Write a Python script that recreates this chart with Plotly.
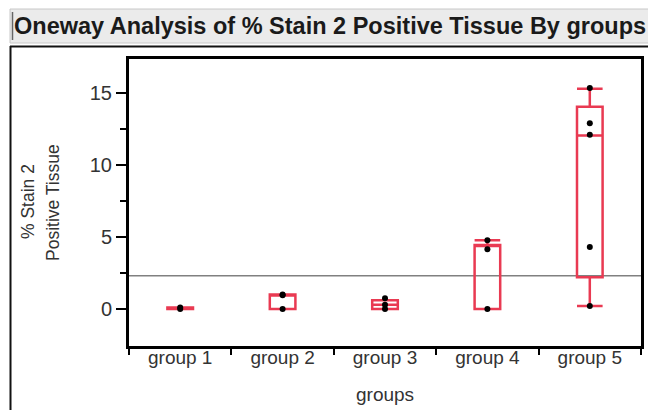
import plotly.graph_objects as go

# ---- data ----
groups = ["group 1", "group 2", "group 3", "group 4", "group 5"]
q1 = [0.0, 0.0, 0.0, 0.0, 2.2]
median = [0.05, 1.0, 0.3, 4.4, 12.05]
q3 = [0.1, 1.0, 0.6, 4.44, 14.05]
lower_fence = [0.0, 0.0, 0.0, 0.0, 0.2]
upper_fence = [0.1, 1.0, 0.6, 4.77, 15.3]

point_groups = ["group 1", "group 1",
                "group 2", "group 2", "group 2",
                "group 3", "group 3", "group 3",
                "group 4", "group 4", "group 4",
                "group 5", "group 5", "group 5", "group 5", "group 5"]
point_values = [0.0, 0.1,
                0.0, 0.95, 1.0,
                0.0, 0.3, 0.75,
                0.0, 4.15, 4.78,
                0.2, 4.3, 12.1, 12.9, 15.35]
grand_mean = 2.3

y_ticks = [0, 5, 10, 15]

title_text = "Oneway Analysis of % Stain 2 Positive Tissue By groups"
y_title_lines = ["% Stain 2", "Positive Tissue"]
x_title = "groups"

# ---- layout geometry (page pixels) ----
W, H = 648, 410
L, R, T, B = 129, 641, 59, 346
pw, ph = R - L, B - T


def px(x):
    return (x - L) / pw


def py(y):
    return (B - y) / ph


RED = "#E93A52"
FONT = "Arial, Liberation Sans, sans-serif"

fig = go.Figure()

fig.add_trace(go.Box(
    x=groups, q1=q1, median=median, q3=q3,
    lowerfence=lower_fence, upperfence=upper_fence,
    width=0.25, whiskerwidth=1,
    line=dict(color=RED, width=2.5),
    fillcolor="rgba(255,255,255,0)",
    boxpoints=False, showlegend=False, hoverinfo="skip",
))

fig.add_trace(go.Scatter(
    x=point_groups, y=point_values, mode="markers",
    marker=dict(color="black", size=6),
    showlegend=False, hoverinfo="skip",
))

shapes = [
    # grand mean line
    dict(type="line", xref="paper", yref="y", x0=0, x1=1,
         y0=grand_mean, y1=grand_mean,
         line=dict(color="#808080", width=1.5), layer="below"),
    # title bar
    dict(type="rect", xref="paper", yref="paper",
         x0=px(10), x1=px(652), y0=py(43), y1=py(9),
         fillcolor="#EBEBEB", line=dict(color="#C8C8C8", width=1)),
    dict(type="line", xref="paper", yref="paper",
         x0=px(12.5), x1=px(12.5), y0=py(40), y1=py(12),
         line=dict(color="#666", width=1.5)),
    # outer frame
    dict(type="line", xref="paper", yref="paper",
         x0=px(10), x1=px(652), y0=py(46.5), y1=py(46.5),
         line=dict(color="#111", width=2)),
    dict(type="line", xref="paper", yref="paper",
         x0=px(10.5), x1=px(10.5), y0=py(46), y1=py(414),
         line=dict(color="#111", width=2)),
]

annotations = [
    dict(text="<b>" + title_text + "</b>", xref="paper", yref="paper",
         x=px(12), y=py(26), xanchor="left", yanchor="middle",
         showarrow=False, font=dict(family=FONT, size=23.5, color="#1a1a1a")),
    dict(text=y_title_lines[0], xref="paper", yref="paper",
         x=px(28), y=py(202), xanchor="center", yanchor="middle",
         textangle=-90, showarrow=False,
         font=dict(family=FONT, size=17.5, color="#333")),
    dict(text=y_title_lines[1], xref="paper", yref="paper",
         x=px(53), y=py(203), xanchor="center", yanchor="middle",
         textangle=-90, showarrow=False,
         font=dict(family=FONT, size=17.5, color="#333")),
    dict(text=x_title, xref="paper", yref="paper",
         x=0.5, y=py(394), xanchor="center", yanchor="middle",
         showarrow=False, font=dict(family=FONT, size=19, color="#333")),
]

fig.update_layout(
    width=W, height=H,
    margin=dict(l=L, r=W - R, t=T, b=H - B, autoexpand=False),
    paper_bgcolor="white", plot_bgcolor="white",
    shapes=shapes, annotations=annotations,
    font=dict(family=FONT, size=19, color="#333"),
)

fig.update_xaxes(
    type="category", categoryorder="array", categoryarray=groups,
    range=[-0.5, 4.5], tickson="boundaries",
    ticks="outside", ticklen=6, tickwidth=2, tickcolor="black",
    ticklabelstandoff=-8,
    showline=True, linecolor="black", linewidth=3, mirror=True,
    showgrid=False, zeroline=False,
    tickfont=dict(family=FONT, size=19, color="#333"),
)

fig.update_yaxes(
    range=[-2.57, 17.36], tickvals=y_ticks,
    ticks="outside", ticklen=10, tickwidth=2, tickcolor="black",
    minor=dict(ticks="outside", ticklen=6, tickwidth=1.5, tickcolor="black",
               tickvals=[2.5, 7.5, 12.5], showgrid=False),
    showline=True, linecolor="black", linewidth=3, mirror=True,
    showgrid=False, zeroline=False,
    tickfont=dict(family=FONT, size=20, color="#333"),
)

fig.write_html(
    "out.html",
    config={"displayModeBar": False},
    post_script="document.body.style.margin='0';document.body.style.overflow='hidden';",
)
